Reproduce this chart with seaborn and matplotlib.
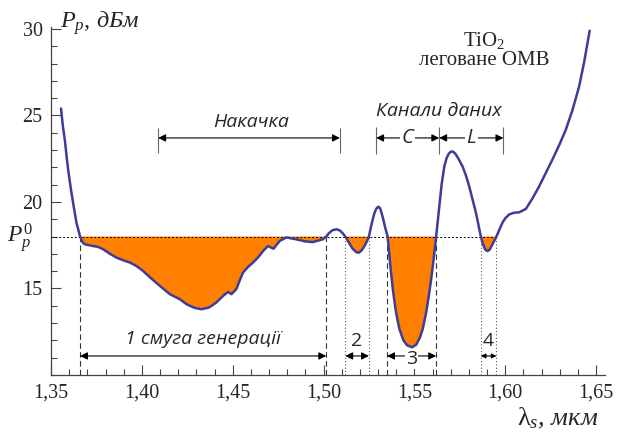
import pandas as pd
import matplotlib
matplotlib.use("Agg")
import matplotlib.pyplot as plt
from matplotlib.ticker import MultipleLocator
import seaborn as sns

wavelength = [1.3555, 1.3565, 1.3577, 1.3586, 1.3595, 1.3610, 1.3623, 1.3640, 1.3660,
              1.3675, 1.3687, 1.3710, 1.3733, 1.3760, 1.3788, 1.3825, 1.3861, 1.3900,
              1.3934, 1.3970, 1.4007, 1.4044, 1.4099, 1.4154, 1.4209, 1.4246, 1.4290,
              1.4328, 1.4370, 1.4410, 1.4450, 1.4475, 1.4493, 1.4520, 1.4540, 1.4557,
              1.4585, 1.4612, 1.4640, 1.4667, 1.4694, 1.4725, 1.4758, 1.4795, 1.4850,
              1.4900, 1.4941, 1.4996, 1.5015, 1.5030, 1.5050, 1.5072, 1.5090, 1.5105,
              1.5120, 1.5140, 1.5160, 1.5180, 1.5194, 1.5210, 1.5225, 1.5240, 1.5250,
              1.5260, 1.5270, 1.5280, 1.5290, 1.5298, 1.5304, 1.5312, 1.5320, 1.5330,
              1.5340, 1.5353, 1.5360, 1.5368, 1.5381, 1.5395, 1.5405, 1.5418, 1.5440,
              1.5460, 1.5487, 1.5510, 1.5530, 1.5546, 1.5565, 1.5580, 1.5592, 1.5605,
              1.5620, 1.5630, 1.5637, 1.5650, 1.5665, 1.5678, 1.5690, 1.5700, 1.5711,
              1.5725, 1.5740, 1.5765, 1.5785, 1.5802, 1.5820, 1.5839, 1.5855, 1.5866,
              1.5878, 1.5890, 1.5903, 1.5915, 1.5930, 1.5952, 1.5970, 1.5985, 1.6000,
              1.6022, 1.6050, 1.6077, 1.6114, 1.6150, 1.6187, 1.6220, 1.6260, 1.6300,
              1.6334, 1.6370, 1.6407, 1.6435, 1.6465]
pump_power = [25.4, 24.4, 23.5, 22.6, 21.8, 20.7, 19.85, 18.8, 18.0,
              17.65, 17.55, 17.5, 17.45, 17.4, 17.26, 17.0, 16.78, 16.62,
              16.5, 16.3, 16.01, 15.65, 15.15, 14.67, 14.38, 14.09, 13.88,
              13.8, 13.9, 14.19, 14.6, 14.8, 14.67, 14.96, 15.5, 15.92,
              16.25, 16.5, 16.8, 17.16, 17.45, 17.3, 17.74, 17.95, 17.84,
              17.72, 17.68, 17.84, 18.0, 18.2, 18.37, 18.42, 18.35, 18.2,
              18.0, 17.65, 17.3, 17.1, 17.07, 17.2, 17.45, 17.75, 18.0,
              18.5, 18.95, 19.35, 19.6, 19.7, 19.72, 19.62, 19.35, 18.95,
              18.5, 18.0, 17.2, 16.3, 15.0, 13.9, 13.3, 12.65, 12.0,
              11.72, 11.6, 11.75, 12.15, 12.65, 13.6, 14.6, 15.5, 16.6,
              18.0, 19.0, 19.76, 21.0, 22.06, 22.55, 22.8, 22.9, 22.92,
              22.8, 22.55, 22.06, 21.5, 20.9, 20.15, 19.38, 18.55, 18.0,
              17.55, 17.25, 17.16, 17.25, 17.55, 18.0, 18.45, 18.8, 19.05,
              19.28, 19.38, 19.4, 19.6, 20.2, 20.9, 21.6, 22.45, 23.35,
              24.18, 25.3, 26.67, 28.1, 29.9]

threshold = 18.0
dashed_edges = [1.366, 1.5015, 1.535, 1.562]
dotted_edges = [1.512, 1.525, 1.5866, 1.5952]
band_spans = [(1.366, 1.5015), (1.512, 1.525), (1.535, 1.562), (1.5866, 1.5952)]
band_labels = ["1 смуга генерації", "2", "3", "4"]
pump_span = (1.409, 1.509)
channel_names = ["C", "L"]
channel_spans = [(1.529, 1.5637), (1.5637, 1.599)]
xticks = [1.35, 1.40, 1.45, 1.50, 1.55, 1.60, 1.65]
yticks = [15, 20, 25, 30]

df = pd.DataFrame({"wl": wavelength, "pp": pump_power})

sns.set_style("ticks")
plt.rcParams["font.family"] = ["Liberation Serif", "DejaVu Serif"]
plt.rcParams["mathtext.fontset"] = "custom"
plt.rcParams["mathtext.rm"] = "Liberation Serif"
plt.rcParams["mathtext.it"] = "Liberation Serif:italic"
plt.rcParams["mathtext.bf"] = "Liberation Serif:bold"

line_col = "#3d3d99"
orange = "#ff8000"
sans = ["Open Sans", "DejaVu Sans"]

fig = plt.figure(figsize=(6.17, 4.32), dpi=100)
ax = fig.add_axes([0.0827, 0.132, 0.898, 0.805])

ax.fill_between(df["wl"], df["pp"], threshold, where=df["pp"] < threshold,
                interpolate=True, color=orange, lw=0, zorder=1)
ax.hlines(threshold, 1.35, dotted_edges[-1], colors="black", lw=0.7,
          linestyles=(0, (2, 2)), zorder=2)
sns.lineplot(data=df, x="wl", y="pp", ax=ax, color=line_col, lw=1.8,
             sort=False, zorder=3)

ax.vlines(dashed_edges, 10, threshold, colors="#333333", lw=0.8,
          linestyles=(0, (5, 3)), zorder=2)
ax.vlines(dotted_edges, 10, threshold, colors="#555555", lw=0.8,
          linestyles=(0, (1, 2)), zorder=2)

def span_arrow(x0, x1, y, size=11):
    ax.annotate("", xy=(x1, y), xytext=(x0, y),
                arrowprops=dict(arrowstyle="<|-|>", color="black", lw=0.8,
                                shrinkA=0, shrinkB=0, mutation_scale=size))

# generation bands
for (x0, x1), lab in zip(band_spans, band_labels):
    span_arrow(x0, x1, 11.1, size=11 if x1 - x0 > 0.012 else 7)
for (x0, x1), lab in zip(band_spans, band_labels):
    mid = (x0 + x1) / 2
    if lab == "1 смуга генерації":
        ax.text(mid, 12.1, lab, family=sans, style="italic", fontsize=14,
                ha="center", va="center")
    elif lab == "3":
        ax.text(mid, 10.9, lab, family=sans, fontsize=14, ha="center",
                va="center", bbox=dict(fc="white", ec="none", pad=0.5))
    else:
        ax.text(mid, 11.95, lab, family=sans, fontsize=14, ha="center", va="center")

# pump band
ax.vlines(pump_span, 22.85, 24.3, colors="#666666", lw=0.8)
span_arrow(pump_span[0], pump_span[1], 23.7)
ax.text(sum(pump_span) / 2 + 0.001, 24.6, "Накачка", family=sans, style="italic",
        fontsize=14, ha="center", va="center")

# data channels
ax.vlines([channel_spans[0][0], channel_spans[0][1], channel_spans[1][1]],
          22.75, 24.35, colors="#666666", lw=0.8)
for (x0, x1), name in zip(channel_spans, channel_names):
    span_arrow(x0, x1, 23.7)
    ax.text((x0 + x1) / 2, 23.7, name, family=sans, style="italic", fontsize=14.5,
            ha="center", va="center", bbox=dict(fc="white", ec="none", pad=1))
ax.text(1.5637, 25.25, "Канали даних", family=sans, style="italic",
        fontsize=14, ha="center", va="center")

ax.text(1.5885, 29.35, "TiO$_2$", fontsize=15, ha="center", va="center")
ax.text(1.5885, 28.15, "леговане ОМВ", fontsize=15, ha="center", va="center")

ax.text(1.355, 30.35, "$P_p$, дБм", style="italic", fontsize=17.5,
        ha="left", va="center")
ax.text(1.629, 7.5, r"$\mathrm{\lambda}_s$, мкм", style="italic", fontsize=19,
        ha="center", va="center")
ax.text(1.333, 17.9, "$P_p^0$", fontsize=17, ha="center", va="center")

ax.set_xlim(1.35, 1.655)
ax.set_ylim(10, 30.1)
ax.set_xticks(xticks)
ax.set_xticklabels([f"{t:.2f}".replace(".", ",") for t in xticks])
ax.set_yticks(yticks)
ax.xaxis.set_minor_locator(MultipleLocator(0.01))
ax.yaxis.set_minor_locator(MultipleLocator(1))
ax.tick_params(which="major", direction="in", length=7, width=0.8,
               labelsize=14.5, color="#444444", pad=6)
ax.tick_params(which="minor", direction="in", length=4, width=0.8, color="#444444")
ax.set_xlabel("")
ax.set_ylabel("")
sns.despine(ax=ax)
for s in ("left", "bottom"):
    ax.spines[s].set_color("#444444")
    ax.spines[s].set_linewidth(0.9)

fig.savefig("out.png", dpi=100)
